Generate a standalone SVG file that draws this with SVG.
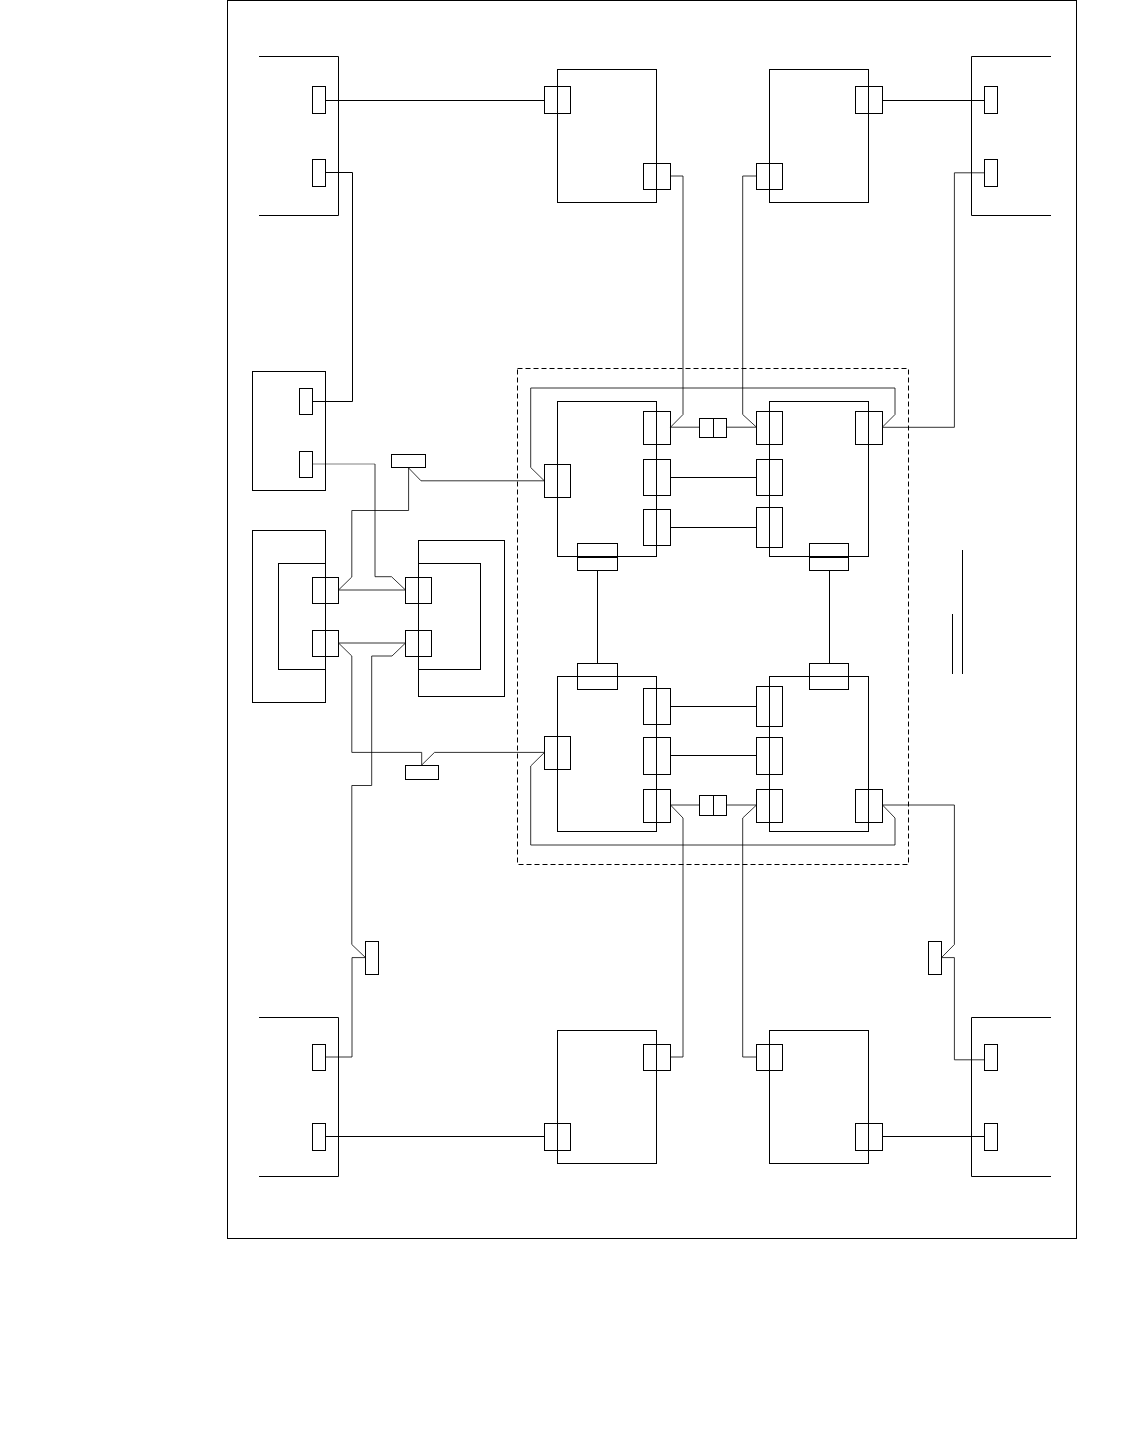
<svg xmlns="http://www.w3.org/2000/svg" width="1134" height="1443" viewBox="0 0 1134 1443">
<style>
rect,path{fill:none;stroke:#000;stroke-width:1}
.d{stroke-dasharray:5 3}
.w{stroke-width:.8}
.p{stroke-width:.5}
.t{stroke-width:2}
</style>
<rect width="1134" height="1443" style="fill:#fff;stroke:none"/>
<g id="frame"><rect x="227.5" y="0.5" width="849" height="1238"/></g>
<g id="group-dashed"><rect class="d" x="517.5" y="368.5" width="391" height="496"/></g>
<g id="legend"><path d="M962.5 550V674M952.5 614V674"/></g>
<g id="node-tl"><path d="M259 56.5H338.5V215.5H259"/><rect x="312.5" y="86.5" width="13" height="27"/><rect x="312.5" y="159.5" width="13" height="27"/></g>
<g id="node-tr"><path d="M1051 56.5H971.5V215.5H1051"/><rect x="984.5" y="86.5" width="13" height="27"/><rect x="984.5" y="159.5" width="13" height="27"/></g>
<g id="node-bl"><path d="M259 1017.5H338.5V1176.5H259"/><rect x="312.5" y="1044.5" width="13" height="26"/><rect x="312.5" y="1123.5" width="13" height="27"/></g>
<g id="node-br"><path d="M1051 1017.5H971.5V1176.5H1051"/><rect x="984.5" y="1044.5" width="13" height="26"/><rect x="984.5" y="1123.5" width="13" height="27"/></g>
<g id="node-top-1"><rect x="557.5" y="69.5" width="99" height="133"/><rect x="544.5" y="86.5" width="26" height="27"/><rect x="643.5" y="163.5" width="27" height="26"/></g>
<g id="node-top-2"><rect x="769.5" y="69.5" width="99" height="133"/><rect x="855.5" y="86.5" width="27" height="27"/><rect x="756.5" y="163.5" width="26" height="26"/></g>
<g id="node-bot-1"><rect x="557.5" y="1030.5" width="99" height="133"/><rect x="643.5" y="1044.5" width="27" height="26"/><rect x="544.5" y="1123.5" width="26" height="27"/></g>
<g id="node-bot-2"><rect x="769.5" y="1030.5" width="99" height="133"/><rect x="756.5" y="1044.5" width="26" height="26"/><rect x="855.5" y="1123.5" width="27" height="27"/></g>
<g id="node-left-a"><rect x="252.5" y="371.5" width="73" height="119"/><rect x="299.5" y="388.5" width="13" height="26"/><rect x="299.5" y="451.5" width="13" height="26"/></g>
<g id="node-left-b"><rect x="252.5" y="530.5" width="73" height="172"/><rect x="278.5" y="563.5" width="47" height="106"/><rect x="312.5" y="577.5" width="26" height="26"/><rect x="312.5" y="630.5" width="26" height="26"/></g>
<g id="node-left-c"><rect x="418.5" y="540.5" width="86" height="156"/><rect x="418.5" y="563.5" width="62" height="106"/><rect x="405.5" y="577.5" width="26" height="26"/><rect x="405.5" y="630.5" width="26" height="26"/></g>
<g id="tag-1"><rect x="391.5" y="454.5" width="34" height="13"/></g>
<g id="tag-2"><rect x="405.5" y="765.5" width="33" height="14"/></g>
<g id="tag-3"><rect x="365.5" y="941.5" width="13" height="33"/></g>
<g id="tag-4"><rect x="928.5" y="941.5" width="13" height="33"/></g>
<g id="cpu-tl"><rect x="557.5" y="401.5" width="99" height="155"/><rect x="643.5" y="411.5" width="27" height="33"/><rect x="643.5" y="459.5" width="27" height="36"/><rect x="643.5" y="509.5" width="27" height="36"/><rect x="544.5" y="464.5" width="26" height="33"/><rect x="577.5" y="543.5" width="40" height="27"/><path class="t" d="M577.5 557H617.5"/></g>
<g id="cpu-tr"><rect x="769.5" y="401.5" width="99" height="155"/><rect x="756.5" y="411.5" width="26" height="33"/><rect x="756.5" y="459.5" width="26" height="36"/><rect x="756.5" y="507.5" width="26" height="40"/><rect x="855.5" y="411.5" width="27" height="33"/><rect x="809.5" y="543.5" width="39" height="27"/><path class="t" d="M809.5 557H848.5"/></g>
<g id="cpu-bl"><rect x="557.5" y="676.5" width="99" height="155"/><rect x="643.5" y="688.5" width="27" height="36"/><rect x="643.5" y="737.5" width="27" height="37"/><rect x="643.5" y="789.5" width="27" height="33"/><rect x="544.5" y="736.5" width="26" height="33"/><rect x="577.5" y="663.5" width="40" height="26"/></g>
<g id="cpu-br"><rect x="769.5" y="676.5" width="99" height="155"/><rect x="756.5" y="686.5" width="26" height="40"/><rect x="756.5" y="737.5" width="26" height="37"/><rect x="756.5" y="789.5" width="26" height="33"/><rect x="855.5" y="789.5" width="27" height="33"/><rect x="809.5" y="663.5" width="39" height="26"/></g>
<g id="link-top"><rect x="699.5" y="418.5" width="27" height="19"/><path d="M713.5 418.5V437.5"/></g>
<g id="link-bot"><rect x="699.5" y="795.5" width="27" height="20"/><path d="M713.5 795.5V815.5"/></g>
<g id="connectors">
<path d="M326 100.5H544.5M882.5 100.5H984.5M326 1136.5H544.5M882.5 1136.5H984.5"/>
<path d="M670.5 477.5H756.5M670.5 527.5H756.5M670.5 706.5H756.5M670.5 755.5H756.5M597.5 570.5V663.5M829.5 570.5V663.5"/>
<path d="M312.5 401.5H352.5V172.5H326"/>
<path class="w" d="M670.5 176H683V414.5L670.5 427.2H699.5M726.5 427.2H756.5L742.7 414.5V176H756.5"/>
<path class="w" d="M882.5 427.3H954.4V172.8H984.5"/>
<path class="w" d="M544.5 481L530.7 467.5V388H895V414.5L882.5 427"/>
<path class="p" d="M312.5 464H375"/>
<path class="w" d="M375 464V576.7H391.5L405.5 590H338.5L351.8 577V510.5H408.6V468L421 480.8H544.5"/>
<path class="w" d="M338.5 643H405.5L392 656H371.7V785.5H351.8V944.5L365.5 957.6H352V1057H326"/>
<path class="w" d="M338.5 643L351.8 656V752.4H421.7V765L434.5 752.4H544.5L530.7 766V845H895V818L882.5 805H954.4V944.5L941.5 957.6H954.4V1059.8H984.5"/>
<path class="w" d="M670.5 805H699.5M726.5 805H756.5L742.7 818V1057H756.5M670.5 805L683 818V1057H670.5"/>
</g>
</svg>
